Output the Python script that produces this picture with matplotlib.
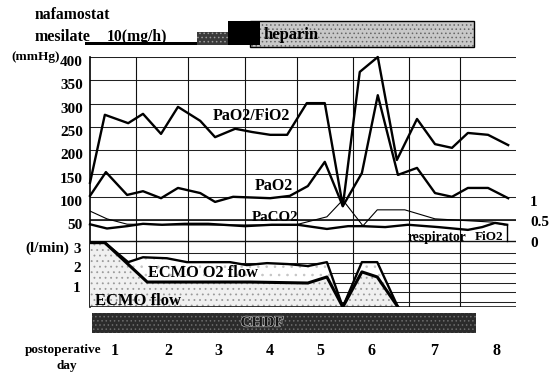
import numpy as np
import matplotlib
matplotlib.use("Agg")
import matplotlib.pyplot as plt
from matplotlib import transforms
import matplotlib.patheffects as pe

# ---------------- data (x in postoperative days from start of day 1) ----------------
pf_days = [0, 0.28, 0.72, 1.00, 1.34, 1.66, 2.08, 2.36, 2.74, 3.06, 3.40, 3.72, 4.09,
           4.43, 4.77, 5.09, 5.43, 5.79, 6.17, 6.51, 6.83, 7.13, 7.51, 7.89]
pf_vals = [130, 276, 258, 278, 235, 293, 263, 228, 246, 239, 233, 233, 301,
           301, 80, 368, 400, 179, 267, 213, 205, 237, 233, 211]

pao2_days = [0, 0.30, 0.70, 1.00, 1.34, 1.66, 2.08, 2.36, 2.70, 3.40, 3.77, 4.11,
             4.43, 4.77, 5.13, 5.43, 5.81, 6.17, 6.51, 6.83, 7.13, 7.51, 7.89]
pao2_vals = [102, 153, 104, 112, 97, 119, 108, 89, 100, 97, 102, 123,
             175, 80, 151, 318, 147, 162, 108, 100, 119, 119, 97]

paco2_days = [0, 0.32, 0.70, 1.00, 1.36, 1.79, 2.23, 2.92, 3.43, 3.92, 4.47, 4.87,
              5.15, 5.57, 6.00, 6.57, 7.13, 7.40, 7.64, 7.87]
paco2_vals = [41, 32, 37, 42, 40, 42, 42, 37, 40, 40, 31, 37,
              37, 35, 40, 35, 29, 35, 44, 40]

fio2_days = [0, 0.32, 0.70, 1.89, 2.92, 3.87, 4.47, 4.77, 5.15, 5.42, 5.94, 6.51, 7.60, 7.83]
fio2_vals = [0.73, 0.54, 0.41, 0.39, 0.39, 0.39, 0.59, 1.0, 0.37, 0.76, 0.76, 0.54, 0.46, 0.39]

o2flow_days = [0, 0.28, 0.72, 1.00, 1.45, 1.83, 2.26, 2.64, 2.96, 3.34, 3.74, 4.11,
               4.47, 4.77, 5.13, 5.42, 5.81]
o2flow_vals = [3.3, 3.3, 2.3, 2.55, 2.5, 2.3, 2.3, 2.3, 2.15, 2.25, 2.2, 2.1,
               2.3, 0, 2.3, 2.3, 0]

ecmo_days = [0, 0.28, 1.08, 2.08, 3.02, 4.11, 4.47, 4.77, 5.13, 5.42, 5.81]
ecmo_vals = [3.3, 3.3, 1.28, 1.28, 1.28, 1.23, 1.54, 0, 1.8, 1.54, 0]

# drug / therapy periods (days)
nafa_start = [-0.09, 2.02, 2.60]
nafa_end = [2.02, 2.60, 3.21]
heparin_start, heparin_end = 3.02, 7.25
chdf_start, chdf_end = 0.04, 7.28

mm_ticks = [50, 100, 150, 200, 250, 300, 350, 400]
mm_labels = ["50", "100", "150", "200", "250", "300", "350", "400"]
flow_ticks = [1, 2, 3]
flow_labels = ["1", "2", "3"]
fio2_ticks = [1, 0.5, 0]
fio2_labels = ["1", "0.5", "0"]
day_labels = ["1", "2", "3", "4", "5", "6", "7", "8"]

# ---------------- layout ----------------
W, H = 556, 373
plt.rcParams["font.family"] = ["Liberation Serif", "DejaVu Serif"]
plt.rcParams["font.weight"] = "bold"
plt.rcParams["hatch.linewidth"] = 0.6

fig = plt.figure(figsize=(W / 100, H / 100), dpi=100)
fig.patch.set_facecolor("white")


def fx(px):
    return px / W


def fy(py):
    return 1 - py / H


PX_PER_DAY = 53.0
X0, X1 = 90, 516
XMAX = (X1 - X0) / PX_PER_DAY
TOP, BOT = 57, 307
rect = [fx(X0), fy(BOT), fx(X1) - fx(X0), fy(TOP) - fy(BOT)]

# mmHg axes
ax = fig.add_axes(rect)
ax.set_xlim(0, XMAX)
mm_per_px = 1 / 0.466
ax.set_ylim(400 - (BOT - TOP) * mm_per_px, 400)
for s in ["top", "right", "bottom"]:
    ax.spines[s].set_visible(False)
ax.spines["left"].set_linewidth(1.2)
ax.set_xticks([])
ax.set_yticks(mm_ticks)
ax.set_yticklabels(mm_labels, fontsize=11, fontweight="bold")
ax.tick_params(axis="y", length=0, pad=5)
off = transforms.ScaledTranslation(0, -0.04, fig.dpi_scale_trans)
for lab in ax.get_yticklabels():
    lab.set_transform(lab.get_transform() + off)

GRID = dict(color="#222222", lw=0.75, zorder=1)
for v in mm_ticks:
    ax.axhline(v, **GRID)
ax.axhline(50, color="#222222", lw=1.3, zorder=1)
vgrid_px = [136, 188, 245, 297, 353, 409, 460]
for px in vgrid_px:
    ax.axvline((px - X0) / PX_PER_DAY, color="#111111", lw=0.8, zorder=1)

LW = 1.7
ax.plot(pf_days, pf_vals, color="black", lw=LW, zorder=3, clip_on=False)
ax.plot(pao2_days, pao2_vals, color="black", lw=LW, zorder=3, clip_on=False)
ax.plot(paco2_days, paco2_vals, color="black", lw=LW, zorder=3, clip_on=False)

# FiO2 axes
axf = fig.add_axes(rect, sharex=ax)
axf.set_facecolor("none")
axf.axis("off")
F0, FPX = 241, 41.0
axf.set_ylim((F0 - BOT) / FPX, (F0 - TOP) / FPX)
axf.axhline(0, color="#111111", lw=1.0, zorder=1)
axf.plot(fio2_days, fio2_vals, color="black", lw=0.8, zorder=3)
axf.plot([(507 - X0) / PX_PER_DAY] * 2, [0, 0.4], color="black", lw=1.0)

# Flow axes
axq = fig.add_axes(rect, sharex=ax)
axq.set_facecolor("none")
axq.axis("off")
QPX = 19.5
axq.set_ylim(0, (BOT - TOP) / QPX)
for v in [0.25, 0.75, 1.25, 1.75, 2.25, 2.75]:
    axq.axhline(v, color="#222222", lw=0.75, zorder=0.5)
axq.axhline(0, color="black", lw=1.8, zorder=5, xmax=1.0)
axq.fill_between(o2flow_days, 0, o2flow_vals, facecolor="white", edgecolor="#c4c4c4",
                 hatch="..", linewidth=0, zorder=2)
axq.fill_between(ecmo_days, 0, ecmo_vals, facecolor="#f0f0f0", edgecolor="#9a9a9a",
                 hatch="...", linewidth=0, zorder=2.1)
axq.plot(o2flow_days, o2flow_vals, color="black", lw=LW, zorder=3)
axq.plot(ecmo_days, ecmo_vals, color="black", lw=2.2, zorder=3)

# ---------------- labels inside plot ----------------
def ptext(x, y, s, size, **kw):
    fig.text(fx(x), fy(y), s, fontsize=size, fontweight="bold", ha="center",
             va="center", **kw)


ptext(251, 116, "PaO2/FiO2", 11.5, zorder=10)
ptext(274, 186, "PaO2", 11.5, zorder=10)
ptext(275, 217, "PaCO2", 10.8, zorder=10)
ptext(203, 273, "ECMO O2 flow", 11.8, zorder=10)
ptext(138, 301, "ECMO flow", 12, zorder=10)
ptext(437, 237, "respirator", 9.8, zorder=10)
ptext(489, 237, "FiO2", 9.5, zorder=10)

ptext(36, 57, "(mmHg)", 9.5)
ptext(47, 248, "(l/min)", 11)
for v, s in zip(flow_ticks, flow_labels):
    yy = BOT - v * QPX
    ptext(77, yy + 1, s, 11)
for v, s in zip(fio2_ticks, fio2_labels):
    yy = F0 - v * FPX
    fig.text(fx(530), fy(yy + 2.5), s, fontsize=11, fontweight="bold", ha="left", va="center")

# ---------------- drug bar ----------------
axd = fig.add_axes([fx(X0), fy(47), fx(X1) - fx(X0), fy(21) - fy(47)], sharex=ax)
axd.axis("off")
axd.set_ylim(0, 1)
axd.bar(heparin_start, 1.0, width=heparin_end - heparin_start, align="edge", bottom=0,
        facecolor="#c8c8c8", edgecolor="#666666", hatch="....", linewidth=0, clip_on=False)
axd.add_patch(plt.Rectangle((heparin_start, 0), heparin_end - heparin_start, 1.0, fill=False,
                            edgecolor="black", lw=1.0, clip_on=False))
nafa_bottom = [0.08, 0.08, 0.08]
nafa_height = [0.12, 0.48, 0.92]
nafa_face = ["black", "#3a3a3a", "black"]
nafa_hatch = [None, "....", None]
for s0, s1, b, h, fcol, ht in zip(nafa_start, nafa_end, nafa_bottom, nafa_height, nafa_face, nafa_hatch):
    axd.bar(s0, h, width=s1 - s0, align="edge", bottom=b, facecolor=fcol,
            edgecolor="#9a9a9a" if ht else fcol, hatch=ht, linewidth=0, clip_on=False)
ptext(72, 15, "nafamostat", 11.3)
ptext(63, 37, "mesilate", 11.5)
ptext(137, 37, "10(mg/h)", 11.3)
ptext(291, 35, "heparin", 12)

# ---------------- CHDF bar ----------------
axc = fig.add_axes([fx(X0), fy(333), fx(X1) - fx(X0), fy(313) - fy(333)], sharex=ax)
axc.axis("off")
axc.set_ylim(0, 1)
axc.bar(chdf_start, 1.0, width=chdf_end - chdf_start, align="edge", facecolor="#2b2b2b",
        edgecolor="#6e6e6e", hatch="....", linewidth=0)
fig.text(fx(262), fy(323), "CHDF", fontsize=11, fontweight="bold", ha="center", va="center",
         color="#151515",
         path_effects=[pe.withStroke(linewidth=0.9, foreground="#bdbdbd")])

# ---------------- day axis ----------------
day_pos_px = [115, 168, 218, 270, 320, 372, 434, 497]
blend = transforms.blended_transform_factory(ax.transData, fig.transFigure)
for px, s in zip(day_pos_px, day_labels):
    ax.text((px - X0) / PX_PER_DAY, fy(351), s, transform=blend, fontsize=11.5,
            fontweight="bold", ha="center", va="center", clip_on=False)
ptext(63, 350, "postoperative", 9.5)
ptext(67, 366, "day", 9.5)

fig.savefig("out.png", dpi=100, facecolor="white")
